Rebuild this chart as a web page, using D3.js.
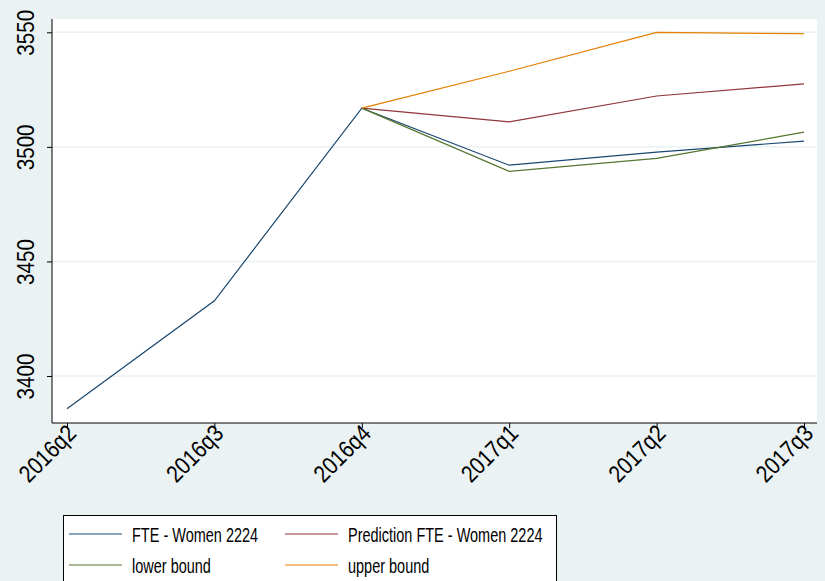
<!DOCTYPE html>
<html>
<head>
<meta charset="utf-8">
<script src="https://cdn.jsdelivr.net/npm/d3@7"></script>
<style>
  body { margin: 0; background: #eaf2f3; }
  text { font-family: "Liberation Sans", Arial, sans-serif; fill: #000; }
</style>
</head>
<body>
<svg id="chart"></svg>
<script>
// Data
var quarters = ["2016q2", "2016q3", "2016q4", "2017q1", "2017q2", "2017q3"];
var fteWomen = [3385.7, 3432.8, 3516.9, 3492.0, 3497.7, 3502.5];
var prediction = [null, null, 3516.9, 3510.9, 3522.2, 3527.5];
var lowerBound = [null, null, 3516.9, 3489.3, 3495.0, 3506.4];
var upperBound = [null, null, 3516.9, 3533.0, 3550.0, 3549.4];
var yTicks = [3400, 3450, 3500, 3550];

var seriesNames = ["FTE - Women 2224", "Prediction FTE - Women 2224", "lower bound", "upper bound"];
var seriesColors = ["#1a476f", "#90353b", "#55752f", "#e37e00"];
var seriesValues = [fteWomen, prediction, lowerBound, upperBound];

const W = 825, H = 581;
const plot = {left: 52, right: 817, top: 19, bottom: 423};

var svg = d3.select("#chart")
    .attr("width", W)
    .attr("height", H);

svg.append("rect").attr("width", W).attr("height", H).attr("fill", "#eaf2f3");

// plot region
svg.append("rect")
    .attr("x", plot.left).attr("y", plot.top)
    .attr("width", plot.right - plot.left).attr("height", plot.bottom - plot.top)
    .attr("fill", "#fff");

var xScale = d3.scalePoint().domain(quarters).range([67, 804]);
var yScale = d3.scaleLinear().domain([3400, 3550]).range([376, 32.3]);

// gridlines
svg.append("g").selectAll("line")
    .data(yTicks)
    .enter().append("line")
    .attr("x1", plot.left).attr("x2", plot.right)
    .attr("y1", d => yScale(d)).attr("y2", d => yScale(d))
    .attr("stroke", "#eaf2f3").attr("stroke-width", 1.5);

// y axis
var yAxis = svg.append("g")
    .attr("transform", "translate(" + plot.left + ",0)")
    .call(d3.axisLeft(yScale).tickValues(yTicks).tickSize(5).tickPadding(0).tickFormat(d3.format("d")));
yAxis.select(".domain").attr("d", "M0," + plot.top + "V" + plot.bottom).attr("stroke", "#000");
yAxis.selectAll(".tick line").attr("stroke", "#000");
yAxis.selectAll(".tick text")
    .attr("x", null).attr("dy", null)
    .attr("text-anchor", "middle")
    .attr("font-size", 24)
    .attr("transform", "translate(-18,0) rotate(-90) scale(0.86,1)");

// x axis
var xAxis = svg.append("g")
    .attr("transform", "translate(0," + plot.bottom + ")")
    .call(d3.axisBottom(xScale).tickSize(5).tickPadding(0));
xAxis.select(".domain").attr("d", "M" + plot.left + ",0H" + plot.right).attr("stroke", "#000");
xAxis.selectAll(".tick line").attr("stroke", "#000");
xAxis.selectAll(".tick text")
    .attr("y", null).attr("dy", null)
    .attr("text-anchor", "end")
    .attr("font-size", 24)
    .attr("transform", "translate(10,12) rotate(-45) scale(0.86,1)");

// lines
var line = d3.line()
    .defined(d => d.v != null)
    .x(d => xScale(d.q))
    .y(d => yScale(d.v));

seriesValues.forEach(function(vals, i) {
  var pts = vals.map((v, j) => ({q: quarters[j], v: v}));
  svg.append("path")
      .datum(pts)
      .attr("fill", "none")
      .attr("stroke", seriesColors[i])
      .attr("stroke-width", 1.2)
      .attr("d", line);
});

// legend
var legend = svg.append("g");
legend.append("rect")
    .attr("x", 63.5).attr("y", 515.5)
    .attr("width", 493).attr("height", 80)
    .attr("fill", "#fff").attr("stroke", "#000");

var legendPos = [[69, 534], [285, 534], [69, 565], [285, 565]];
var items = legend.selectAll("g.item")
    .data(seriesNames)
    .enter().append("g")
    .attr("transform", (d, i) => "translate(" + legendPos[i][0] + "," + legendPos[i][1] + ")");
items.append("line")
    .attr("x1", 0).attr("x2", 53)
    .attr("stroke", (d, i) => seriesColors[i]).attr("stroke-width", 1.2);
items.append("text")
    .attr("transform", "translate(63,8) scale(0.69,1)")
    .attr("font-size", 21)
    .text(d => d);
</script>
</body>
</html>
